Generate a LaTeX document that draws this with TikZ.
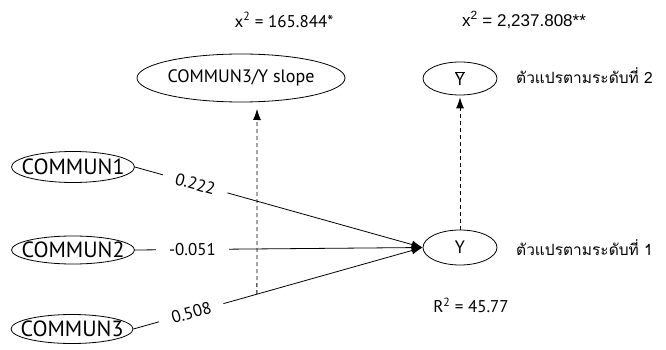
\documentclass[tikz,border=0pt]{standalone}
\usepackage{fontspec}
\setmainfont{PT Sans}
\newfontfamily\thaifont[Script=Thai]{Loma}
\newfontfamily\arialfont{Liberation Sans}
\usetikzlibrary{shapes.geometric,arrows.meta,calc}
\begin{document}
\begin{tikzpicture}[x=1pt,y=-1pt,
  ell/.style={draw, ellipse, inner sep=0pt, line width=0.8pt},
  big/.style={font=\fontsize{22}{24}\selectfont, inner sep=0pt},
  lab/.style={font=\fontsize{17}{19}\selectfont, inner sep=0pt},
  thai/.style={font=\thaifont\fontsize{15.5}{18}\selectfont, inner sep=0pt, anchor=west},
  link/.style={line width=0.8pt},
  arr/.style={-{Latex[length=11pt,width=8pt]}},
  dsh/.style={link, dash pattern=on 4pt off 3pt},
  coef/.style={sloped, fill=white, inner xsep=13pt, inner ysep=1pt, font=\fontsize{17}{19}\selectfont}
]
\useasboundingbox (0,0) rectangle (666,350);
% top labels
\node[lab] (x1) at (284,20) {x\textsuperscript{2} = 165.844*};
\node[lab, font=\arialfont\fontsize{17}{19}\selectfont] (x2) at (524,20) {x\textsuperscript{2} = 2,237.808**};
% ellipses
\node[ell, minimum width=208pt, minimum height=48pt] (sl) at (241,78) {};
\node[lab, font=\fontsize{18}{20}\selectfont] (slt) at (sl) {COMMUN3/Y slope};
\node[ell, minimum width=74pt, minimum height=33pt] (yb) at (460,78.5) {};
\node[lab, font=\fontsize{18}{20}\selectfont] (ybt) at (yb) {$\overline{\hbox{Y}}$};
\node[ell, minimum width=74pt, minimum height=35pt] (y) at (460,247.5) {};
\node[lab, font=\fontsize{18}{20}\selectfont] (yt) at (y) {Y};
\node[ell, minimum width=123pt, minimum height=31pt] (c1) at (73,167) {};
\node[big] (c1t) at (c1) {COMMUN1};
\node[ell, minimum width=123pt, minimum height=28pt] (c2) at (73,250) {};
\node[big] (c2t) at (c2) {COMMUN2};
\node[ell, minimum width=122pt, minimum height=29pt] (c3) at (72,329) {};
\node[big] (c3t) at (c3) {COMMUN3};
% side texts
\node[thai] (th2) at (516,76) {ตัวแปรตามระดับที่ 2};
\node[thai] (th1) at (516,248) {ตัวแปรตามระดับที่ 1};
\node[lab] (r2) at (471,305) {R\textsuperscript{2} = 45.77};
% paths
\draw[link,arr] (c1.east) -- node[coef,pos=0.21] {0.222} (y.west);
\draw[link,arr] (c2.east) -- node[coef,pos=0.2] {-0.051} (y.west);
\draw[link,arr] (c3.east) -- node[coef,pos=0.2] {0.508} (y.west);
% dashed
\coordinate (d1) at ($(c3.east)!0.427!(y.west)$);
\coordinate (e1) at (257,109);
\draw[dsh,arr] (d1) -- (e1);
\coordinate (e2) at ($(yb.south)+(0,2)$);
\draw[dsh,arr] (y.north) -- (e2);
\end{tikzpicture}
\end{document}
